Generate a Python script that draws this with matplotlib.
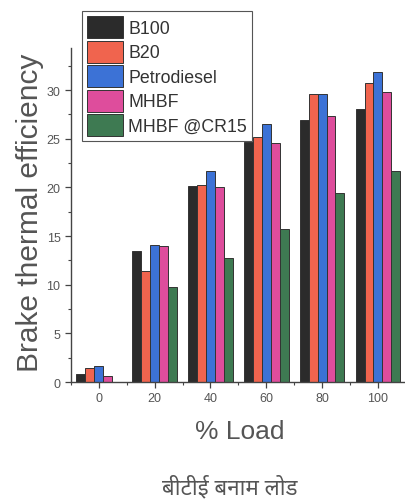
import numpy as np
import matplotlib
matplotlib.use("Agg")
import matplotlib.pyplot as plt
from matplotlib.ticker import MultipleLocator

plt.rcParams['font.family'] = ['Liberation Sans', 'DejaVu Sans']

# data
loads = ["0", "20", "40", "60", "80", "100"]
b100 = [0.85, 13.5, 20.1, 24.7, 26.9, 28.1]
b20 = [1.4, 11.45, 20.2, 25.15, 29.55, 30.7]
petrodiesel = [1.65, 14.05, 21.7, 26.5, 29.55, 31.85]
mhbf = [0.6, 14.0, 20.0, 24.6, 27.3, 29.85]
mhbf_cr15 = [0.0, 9.8, 12.7, 15.7, 19.4, 21.7]

series = [b100, b20, petrodiesel, mhbf, mhbf_cr15]
names = ["B100", "B20", "Petrodiesel", "MHBF", "MHBF @CR15"]
colors = ["#2b2b2b", "#f0644e", "#3c72d6", "#de4d9c", "#3e7a52"]

grey = "#555555"

fig = plt.figure(figsize=(4.05, 5.02), dpi=100)
ax = fig.add_axes([0.175, 0.237, 0.827, 0.665])

x = np.arange(len(loads))
w = 0.16
for i, (vals, name, c) in enumerate(zip(series, names, colors)):
    ax.bar(x + (i - 2) * w, vals, width=w, color=c, edgecolor="#333333",
           linewidth=0.7, label=name)

ax.set_xlim(-0.5, 5.5)
ax.set_ylim(0, 34.3)
ax.set_xticks(x)
ax.set_xticklabels(loads)
ax.xaxis.set_minor_locator(MultipleLocator(0.5))
ax.yaxis.set_major_locator(MultipleLocator(5))
ax.yaxis.set_minor_locator(MultipleLocator(2.5))

for s in ["top", "right"]:
    ax.spines[s].set_visible(False)
for s in ["left", "bottom"]:
    ax.spines[s].set_color("#444444")
    ax.spines[s].set_linewidth(1.0)

ax.tick_params(axis="both", which="major", direction="out", length=4,
               width=0.9, color="#444444", labelsize=9, labelcolor=grey)
ax.tick_params(axis="both", which="minor", direction="out", length=2.5,
               width=0.8, color="#444444")

fig.text(0.074, 0.577, "Brake thermal efficiency", rotation=90,
         ha="center", va="center", fontsize=21.5, color=grey)
fig.text(0.593, 0.14, "% Load", ha="center", va="center",
         fontsize=19, color=grey)
fig.text(0.568, 0.028, "बीटीई बनाम लोड", ha="center", va="center",
         fontsize=16, color=grey,
         family=['Noto Sans Devanagari', 'Lohit Devanagari', 'FreeSans',
                 'Noto Sans', 'DejaVu Sans'])

leg = ax.legend(loc="upper left", bbox_to_anchor=(82 / 405, 1 - 12 / 502),
                bbox_transform=fig.transFigure, borderaxespad=0,
                fontsize=12.8, handlelength=2.0, handleheight=1.53,
                labelspacing=0.14, handletextpad=0.32, borderpad=0.28,
                fancybox=False, framealpha=1)
leg.get_frame().set_edgecolor(grey)
leg.get_frame().set_linewidth(0.8)
for t in leg.get_texts():
    t.set_color("#333333")

fig.savefig("out.png", dpi=100)
